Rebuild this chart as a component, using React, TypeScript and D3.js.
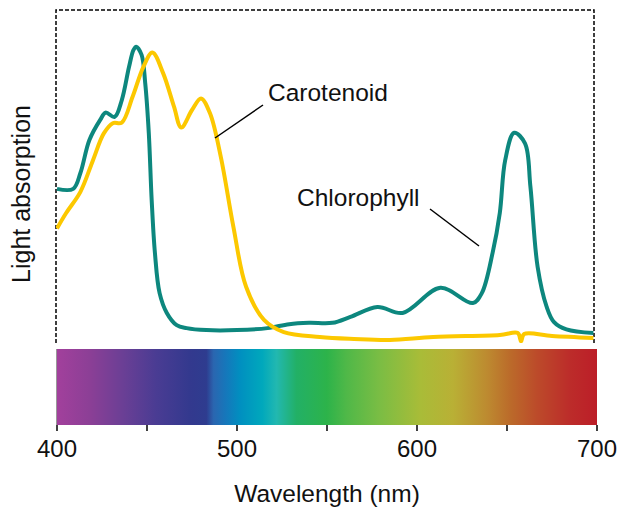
import * as d3 from 'd3';
import React from 'react';

// wavelength (nm) / relative absorption
const chlWavelength = [400, 409, 413, 418, 424, 427, 432, 436, 440, 442.5, 444, 447, 449, 451, 452.6, 454.4, 457, 461, 466.5, 472, 483, 500, 517, 529, 540, 553, 563, 578, 592, 613, 631, 636, 642, 646, 649, 654, 660, 663, 667, 672, 676, 683, 698];
const chlAbsorption = [0.458, 0.458, 0.506, 0.606, 0.667, 0.689, 0.676, 0.727, 0.827, 0.879, 0.889, 0.864, 0.779, 0.627, 0.424, 0.264, 0.142, 0.082, 0.045, 0.036, 0.03, 0.03, 0.036, 0.048, 0.052, 0.052, 0.07, 0.1, 0.082, 0.158, 0.112, 0.142, 0.264, 0.385, 0.545, 0.628, 0.596, 0.465, 0.222, 0.101, 0.055, 0.032, 0.021];

const carWavelength = [400, 405, 413, 420, 426, 431, 436, 442, 448, 453, 459, 465, 469, 475, 480, 485, 491, 498, 505, 515, 526, 546, 565, 585, 609, 646, 656, 657.8, 659.5, 675, 698];
const carAbsorption = [0.338, 0.384, 0.449, 0.545, 0.626, 0.657, 0.659, 0.737, 0.828, 0.871, 0.808, 0.707, 0.644, 0.697, 0.732, 0.687, 0.555, 0.343, 0.162, 0.061, 0.024, 0.009, 0.003, 0.0, 0.009, 0.015, 0.021, -0.004, 0.018, 0.012, 0.006];

const tickValues = [400, 450, 500, 550, 600, 650, 700];
const tickLabels = ['400', '', '500', '', '600', '', '700'];

// visible spectrum colours by wavelength
const spectrumNm = [400, 418, 437, 455, 474, 483, 487, 494, 502, 514, 522, 533, 550, 561, 579, 602, 620, 639, 652, 667, 685, 700];
const spectrumColor = ['#a2409c', '#8c3f96', '#6a3f95', '#4a3c93', '#33398e', '#2e3c8f', '#2a66b0', '#1578bb', '#0090c0', '#00a8bc', '#22b8b0', '#22b066', '#2db34a', '#50b848', '#7abd44', '#a9bc38', '#b9b035', '#bd8a30', '#bb6a2a', '#bc4a2a', '#bc2c2a', '#bc1e28'];

const W = 617;
const H = 509;
const font = '"Liberation Sans", Arial, sans-serif';

export default function App() {
  const x = d3.scaleLinear().domain([400, 700]).range([57, 597]);
  const y = d3.scaleLinear().domain([0, 1]).range([340, 10]);

  const line = d3.line<[number, number]>()
    .x(d => x(d[0]))
    .y(d => y(d[1]))
    .curve(d3.curveCatmullRom.alpha(0.5));

  const chl = line(chlWavelength.map((w, i) => [w, chlAbsorption[i]]));
  const car = line(carWavelength.map((w, i) => [w, carAbsorption[i]]));

  const boxLeft = 56, boxRight = 594, boxTop = 10, boxBottom = 343;
  const barTop = 349, barBottom = 425;

  return (
    <svg width={W} height={H} style={{ position: 'absolute', left: 0, top: 0, background: '#fff' }}
      fontFamily={font}>
      <defs>
        <linearGradient id="spectrum" gradientUnits="userSpaceOnUse" x1={x(400)} x2={x(700)} y1={0} y2={0}>
          {spectrumNm.map((nm, i) => (
            <stop key={nm} offset={(nm - 400) / 300} stopColor={spectrumColor[i]} />
          ))}
        </linearGradient>
        <clipPath id="plot">
          <rect x={boxLeft} y={0} width={boxRight - boxLeft} height={boxBottom} />
        </clipPath>
      </defs>

      {/* dashed plot frame */}
      <path d={`M${boxLeft},${boxBottom}V${boxTop}H${boxRight}V${boxBottom}`}
        fill="none" stroke="#000" strokeWidth={1.5} strokeDasharray="4,2" />

      <g clipPath="url(#plot)">
        <path d={chl ?? ''} fill="none" stroke="#0d877e" strokeWidth={4} strokeLinejoin="round" />
        <path d={car ?? ''} fill="none" stroke="#fcc800" strokeWidth={4} strokeLinejoin="round" />
      </g>

      {/* leader lines + labels */}
      <line x1={263} y1={105} x2={215} y2={138} stroke="#000" strokeWidth={1.5} />
      <text x={268} y={101} fontSize={24.5} fill="#111">Carotenoid</text>
      <line x1={430} y1={209} x2={479} y2={246} stroke="#000" strokeWidth={1.5} />
      <text x={297} y={206} fontSize={24.5} fill="#111">Chlorophyll</text>

      {/* spectrum bar */}
      <rect x={x(400)} y={barTop} width={x(700) - x(400)} height={barBottom - barTop} fill="url(#spectrum)" />
      <line x1={x(400) - 0.5} x2={x(400) - 0.5} y1={barTop} y2={barBottom} stroke="#999" strokeWidth={1} />

      {/* x axis ticks */}
      {tickValues.map((t, i) => (
        <g key={t}>
          <line x1={x(t)} x2={x(t)} y1={barBottom} y2={barBottom + 6} stroke="#000" strokeWidth={1.5} />
          {tickLabels[i] && (
            <text x={x(t)} y={457} textAnchor="middle" fontSize={24} fill="#111">{tickLabels[i]}</text>
          )}
        </g>
      ))}

      <text x={(x(400) + x(700)) / 2} y={502} textAnchor="middle" fontSize={24.5} fill="#111">Wavelength (nm)</text>
      <text transform={`translate(30,${194}) rotate(-90)`} textAnchor="middle" fontSize={25} fill="#111">Light absorption</text>
    </svg>
  );
}
